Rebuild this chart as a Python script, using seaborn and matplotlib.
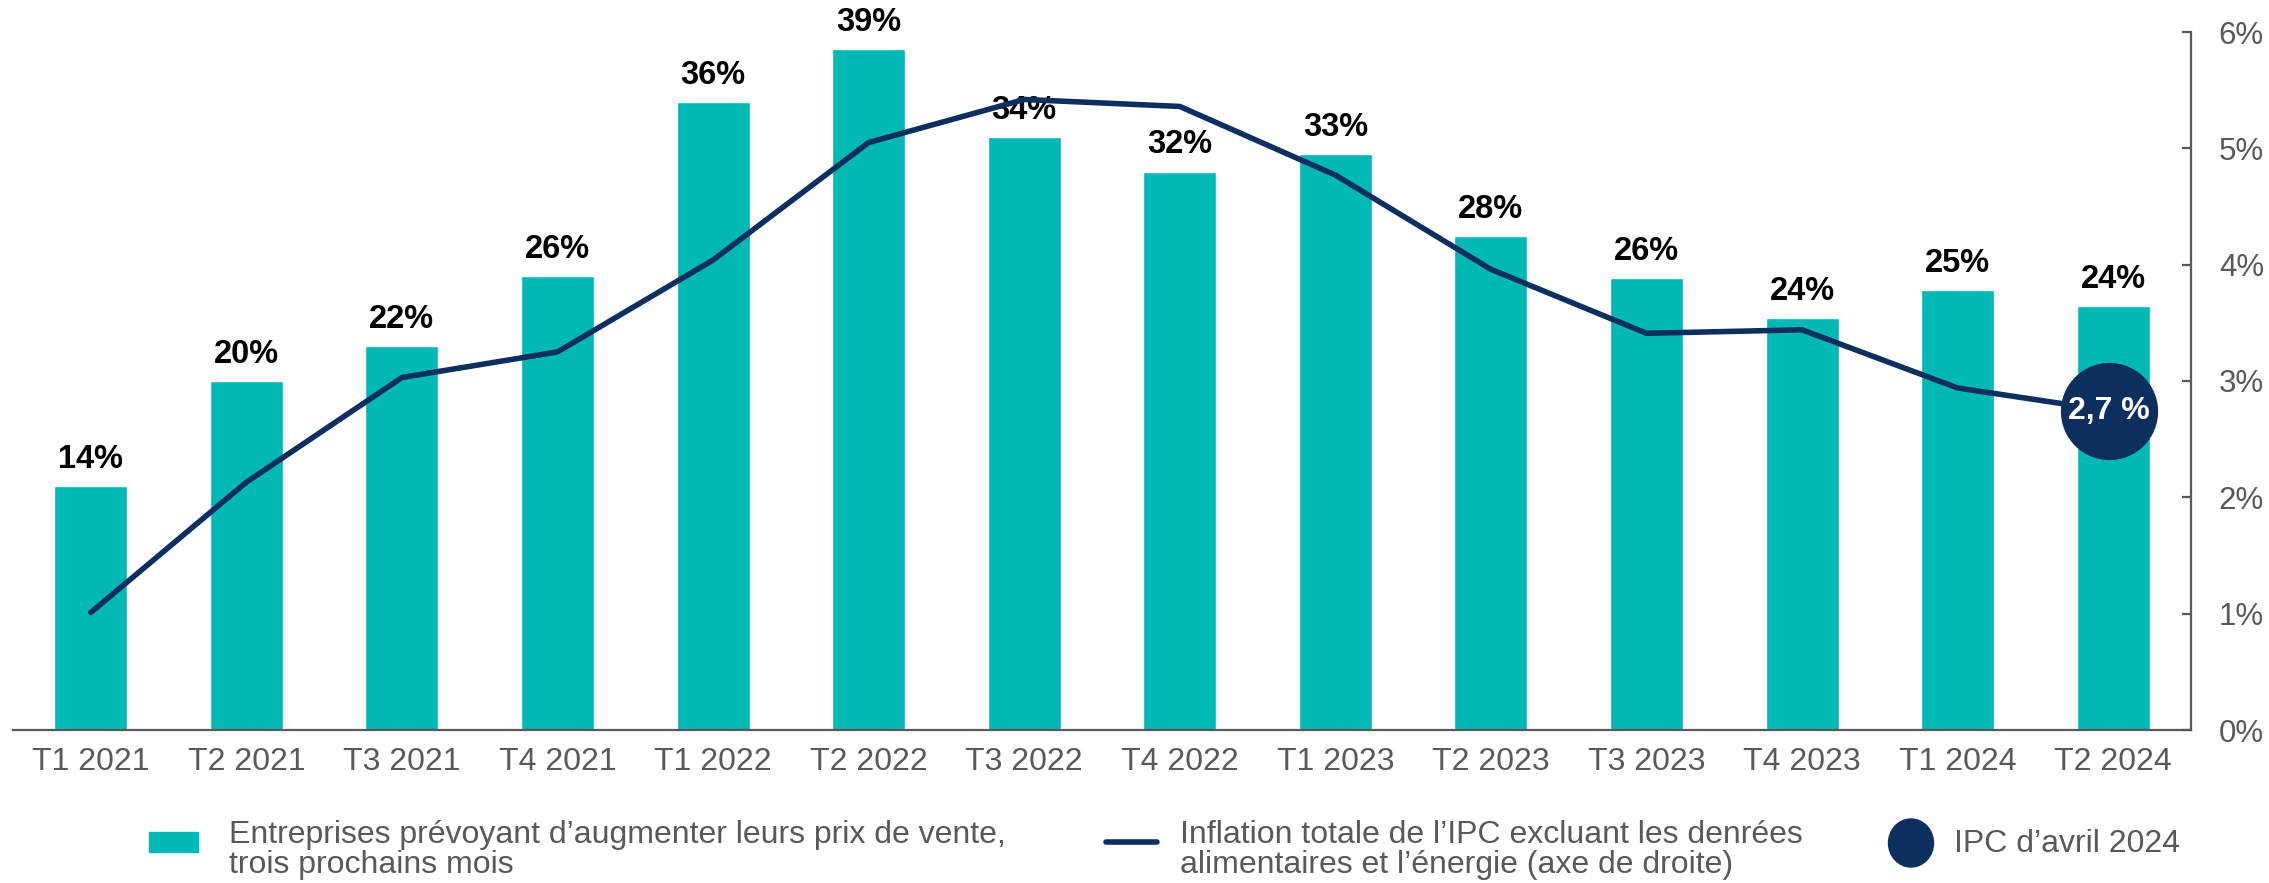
import matplotlib
matplotlib.use("Agg")
import matplotlib.pyplot as plt
from matplotlib.patches import Rectangle, Ellipse
import seaborn as sns

quarters = ["T1 2021", "T2 2021", "T3 2021", "T4 2021",
            "T1 2022", "T2 2022", "T3 2022", "T4 2022",
            "T1 2023", "T2 2023", "T3 2023", "T4 2023",
            "T1 2024", "T2 2024"]
firms_pct = [14.0, 20.0, 22.0, 26.0, 36.0, 39.0, 34.0, 32.0, 33.0, 28.3, 25.9, 23.6, 25.2, 24.3]
core_cpi = [1.01, 2.13, 3.03, 3.25, 4.04, 5.05, 5.42, 5.36, 4.77, 3.96, 3.41, 3.44, 2.94, 2.74]
right_ticks = [0, 1, 2, 3, 4, 5, 6]
april_cpi_label = "2,7 %"

teal = "#00b9b4"
navy = "#0c2f5f"
grey = "#595959"

sns.set_theme(style="white")
plt.rcParams["font.family"] = ["Liberation Sans", "DejaVu Sans"]

W, H = 2269, 883
fig = plt.figure(figsize=(W / 100, H / 100), dpi=100)
ax = fig.add_axes([13 / W, 1 - 730 / H, (2191 - 13) / W, (730 - 32) / H])

# bars (left axis, hidden)
pos = list(range(len(quarters)))
sns.barplot(x=pos, y=firms_pct, ax=ax, color=teal, saturation=1, width=0.47)
ax.set_ylim(0, 40)
ax.set_xlim(-0.5, len(quarters) - 0.5)
for i, v in enumerate(firms_pct):
    ax.annotate(f"{v:.0f}%", (i, v), xytext=(0, 8), textcoords="offset points",
                ha="center", va="bottom", fontsize=23.5, fontweight="bold", color="black")

ax.set_xticks(pos)
ax.set_xticklabels(quarters, fontsize=23, color=grey)
ax.tick_params(axis="x", length=0, pad=12)
ax.set_yticks([])
ax.set_xlabel("")
ax.set_ylabel("")
for s in ["left", "top", "right"]:
    ax.spines[s].set_visible(False)
ax.spines["bottom"].set_color(grey)
ax.spines["bottom"].set_linewidth(1.6)

# line (right axis)
ax2 = ax.twinx()
sns.lineplot(x=pos, y=core_cpi, ax=ax2, color=navy, linewidth=4)
ax2.scatter([pos[-1] - 0.03], [core_cpi[-1]], s=4900, color=navy, zorder=5, linewidths=0)
ax2.text(pos[-1] - 0.03, core_cpi[-1], april_cpi_label, ha="center", va="center",
         color="white", fontsize=23, fontweight="bold", zorder=6)
ax2.set_ylim(0, 6)
ax2.set_xlim(-0.5, len(quarters) - 0.5)
ax2.set_yticks(right_ticks)
ax2.set_yticklabels([f"{t}%" for t in right_ticks], fontsize=22.5, color=grey)
ax2.tick_params(axis="y", direction="in", length=6.5, width=1.6, color=grey, pad=20)
ax2.set_ylabel("")
for s in ["left", "top", "bottom"]:
    ax2.spines[s].set_visible(False)
ax2.spines["right"].set_color(grey)
ax2.spines["right"].set_linewidth(1.6)

# legend drawn in pixel space
lg = fig.add_axes([0, 0, 1, 1])
lg.set_xlim(0, W)
lg.set_ylim(H, 0)
lg.axis("off")
lg.add_patch(Rectangle((149, 832), 49, 20, color=teal))
lg.text(229, 850, "Entreprises prévoyant d’augmenter leurs prix de vente,\ntrois prochains mois",
        fontsize=23, color=grey, va="center", ha="left", linespacing=1.02)
lg.plot([1106, 1157], [842, 842], color=navy, linewidth=4, solid_capstyle="round")
lg.text(1180, 850, "Inflation totale de l’IPC excluant les denrées\nalimentaires et l’énergie (axe de droite)",
        fontsize=23, color=grey, va="center", ha="left", linespacing=1.02)
lg.add_patch(Ellipse((1911, 843), 45, 48, color=navy))
lg.text(1954, 844, "IPC d’avril 2024", fontsize=23, color=grey, va="center", ha="left")

fig.savefig("out.png", dpi=100)
